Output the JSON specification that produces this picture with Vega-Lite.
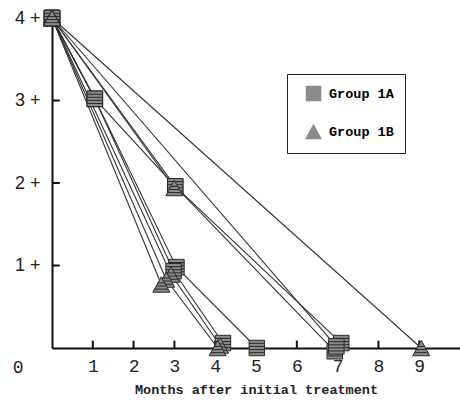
{
  "$schema": "https://vega.github.io/schema/vega-lite/v6.json",
  "width": 408,
  "height": 330,
  "autosize": {"type": "none"},
  "padding": {"left": 52, "top": 18, "right": 0, "bottom": 52},
  "background": "white",
  "config": {
    "view": {"stroke": null},
    "font": "Liberation Mono",
    "axis": {"grid": false, "domainColor": "#111", "domainWidth": 2, "labelColor": "#222", "titleColor": "#222", "labelFont": "Liberation Mono", "titleFont": "Liberation Mono"}
  },
  "datasets": {
    "paths": [
      {"id": "A1", "group": "Group 1A", "x": 0, "y": 4},
      {"id": "A1", "group": "Group 1A", "x": 1.05, "y": 3.02},
      {"id": "A1", "group": "Group 1A", "x": 3.05, "y": 0.98},
      {"id": "A1", "group": "Group 1A", "x": 5.02, "y": 0},
      {"id": "A2", "group": "Group 1A", "x": 0, "y": 4},
      {"id": "A2", "group": "Group 1A", "x": 1.05, "y": 3.02},
      {"id": "A2", "group": "Group 1A", "x": 2.98, "y": 0.93},
      {"id": "A2", "group": "Group 1A", "x": 4.19, "y": 0.06},
      {"id": "A3", "group": "Group 1A", "x": 0, "y": 4},
      {"id": "A3", "group": "Group 1A", "x": 1.05, "y": 3.02},
      {"id": "A3", "group": "Group 1A", "x": 3.02, "y": 1.96},
      {"id": "A3", "group": "Group 1A", "x": 6.93, "y": -0.04},
      {"id": "A4", "group": "Group 1A", "x": 0, "y": 4},
      {"id": "A4", "group": "Group 1A", "x": 3.02, "y": 1.96},
      {"id": "A4", "group": "Group 1A", "x": 7.09, "y": 0.06},
      {"id": "A5", "group": "Group 1A", "x": 0, "y": 4},
      {"id": "A5", "group": "Group 1A", "x": 6.97, "y": 0.02},
      {"id": "B1", "group": "Group 1B", "x": 0, "y": 4},
      {"id": "B1", "group": "Group 1B", "x": 9.05, "y": 0},
      {"id": "B2", "group": "Group 1B", "x": 0, "y": 4},
      {"id": "B2", "group": "Group 1B", "x": 2.92, "y": 0.89},
      {"id": "B2", "group": "Group 1B", "x": 4.12, "y": 0.03},
      {"id": "B3", "group": "Group 1B", "x": 0, "y": 4},
      {"id": "B3", "group": "Group 1B", "x": 2.8, "y": 0.83},
      {"id": "B3", "group": "Group 1B", "x": 4.06, "y": 0},
      {"id": "B4", "group": "Group 1B", "x": 0, "y": 4},
      {"id": "B4", "group": "Group 1B", "x": 2.68, "y": 0.77},
      {"id": "B5", "group": "Group 1B", "x": 0, "y": 4},
      {"id": "B5", "group": "Group 1B", "x": 3.0, "y": 1.94}
    ],
    "xticks": [
      {"x": 1, "y": 0, "y2": 0.09}, {"x": 2, "y": 0, "y2": 0.09}, {"x": 3, "y": 0, "y2": 0.09},
      {"x": 4, "y": 0, "y2": 0.09}, {"x": 5, "y": 0, "y2": 0.09}, {"x": 6, "y": 0, "y2": 0.09},
      {"x": 7, "y": 0, "y2": 0.09}, {"x": 8, "y": 0, "y2": 0.09}, {"x": 9, "y": 0, "y2": 0.09}
    ],
    "yticks": [
      {"y": 1, "x": 0, "x2": 0.19}, {"y": 2, "x": 0, "x2": 0.19}, {"y": 3, "x": 0, "x2": 0.19}, {"y": 4, "x": 0, "x2": 0.19}
    ]
  },
  "encoding": {
    "x": {
      "field": "x", "type": "quantitative",
      "scale": {"domain": [0, 10], "nice": false, "zero": true},
      "axis": {
        "title": "Months after initial treatment",
        "values": [1, 2, 3, 4, 5, 6, 7, 8, 9],
        "format": "d",
        "ticks": false,
        "labelFontSize": 18,
        "labelPadding": 9,
        "titleFontSize": 13.5,
        "titleFontWeight": "bold",
        "titlePadding": 7
      }
    },
    "y": {
      "field": "y", "type": "quantitative",
      "scale": {"domain": [0, 4], "nice": false},
      "axis": {
        "title": null,
        "values": [0, 1, 2, 3, 4],
        "labelExpr": "datum.value == 0 ? '0' : datum.value + ' +'",
        "ticks": false,
        "labelFont": {"condition": {"test": "datum.value == 0", "value": "Liberation Mono"}, "value": "Liberation Sans"},
        "labelFontSize": 18,
        "labelPadding": {"condition": {"test": "datum.value == 0", "value": 29}, "value": 12},
        "labelOffset": {"condition": {"test": "datum.value == 0", "value": 19}, "value": 0}
      }
    }
  },
  "layer": [
    {
      "data": {"name": "xticks"},
      "mark": {"type": "rule", "color": "#111", "strokeWidth": 2},
      "encoding": {"y2": {"field": "y2"}}
    },
    {
      "data": {"name": "yticks"},
      "mark": {"type": "rule", "color": "#111", "strokeWidth": 2},
      "encoding": {"x2": {"field": "x2"}}
    },
    {
      "data": {"name": "paths"},
      "mark": {"type": "line", "color": "#333", "strokeWidth": 1.1},
      "encoding": {"detail": {"field": "id"}}
    },
    {
      "data": {"name": "paths"},
      "mark": {"type": "point", "filled": true, "fill": "#8a8a8a", "stroke": "#2a2a2a", "strokeWidth": 1, "opacity": 1, "size": 240},
      "encoding": {
        "shape": {
          "field": "group", "type": "nominal",
          "scale": {"domain": ["Group 1A", "Group 1B"], "range": ["M-1,-1H1V1H-1Z M-1,-0.6H1 M-1,-0.2H1 M-1,0.2H1 M-1,0.6H1", "M0,-1L1.1,1H-1.1Z M-0.44,-0.2H0.44 M-0.66,0.2H0.66 M-0.88,0.6H0.88"]},
          "legend": {
            "title": null,
            "orient": "none",
            "legendX": 235,
            "legendY": 56,
            "strokeColor": "#222",
            "padding": 11,
            "symbolOffset": 7,
            "symbolSize": 240,
            "symbolFillColor": "#8a8a8a",
            "symbolStrokeColor": "#2a2a2a",
            "symbolStrokeWidth": 1,
            "labelFontSize": 13.5,
            "labelFontWeight": "bold",
            "labelOffset": 7,
            "rowPadding": 17
          }
        }
      }
    }
  ]
}
